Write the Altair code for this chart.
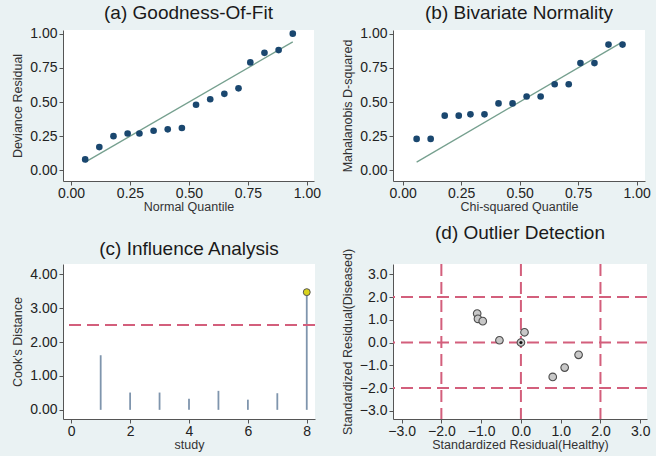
import altair as alt
import pandas as pd

# ---- data ----
normal_q = [0.06, 0.12, 0.18, 0.24, 0.29, 0.35, 0.41, 0.47, 0.53, 0.59, 0.65, 0.71, 0.76, 0.82, 0.88, 0.94]
deviance = [0.08, 0.17, 0.25, 0.27, 0.27, 0.29, 0.30, 0.31, 0.48, 0.52, 0.56, 0.60, 0.79, 0.86, 0.88, 1.00]
chi_q = [0.06, 0.12, 0.18, 0.24, 0.29, 0.35, 0.41, 0.47, 0.53, 0.59, 0.65, 0.71, 0.76, 0.82, 0.88, 0.94]
maha = [0.23, 0.23, 0.40, 0.40, 0.41, 0.41, 0.49, 0.49, 0.54, 0.54, 0.63, 0.63, 0.785, 0.785, 0.92, 0.92]
ref_line = [0.06, 0.94]

study = [1, 2, 3, 4, 5, 6, 7, 8]
cooks = [1.61, 0.51, 0.51, 0.33, 0.56, 0.30, 0.49, 3.47]
cook_cutoff = [2.5]

resid_healthy = [-1.10, -1.08, -0.96, -0.54, 0.00, 0.09, 1.45, 1.10, 0.80]
resid_diseased = [1.27, 1.04, 0.94, 0.10, 0.00, 0.45, -0.54, -1.10, -1.51]
outlier_lines = [-2, 0, 2]

ticks_unit = [0, 0.25, 0.5, 0.75, 1.0]
ticks_cook = [0, 1, 2, 3, 4]
ticks_study = [0, 2, 4, 6, 8]
ticks_std = [-3, -2, -1, 0, 1, 2, 3]

NAVY = "#1a476f"
FITLINE = "#76a08f"
SPIKE = "#7f95ad"
DASH = "#d35f7c"
FONT = "Liberation Sans"


def ax(title, values, fmt, tpad, lpad=2):
    return alt.Axis(title=title, values=values, format=fmt, grid=False,
                    labelFlush=False, labelOverlap=False, titlePadding=tpad,
                    labelPadding=lpad)


def ttl(text, offset):
    return alt.TitleParams(text=text, fontSize=19, fontWeight="normal", color="#1a1a1a",
                           font=FONT, anchor="middle", offset=offset)


# (a)
da = pd.DataFrame({"q": normal_q, "r": deviance})
dla = pd.DataFrame({"q": ref_line, "r": ref_line})
xa = alt.X("q:Q", scale=alt.Scale(domain=[-0.034, 1.030], nice=False, zero=False),
           axis=ax("Normal Quantile", ticks_unit, ".2f", 0, 1))
ya = alt.Y("r:Q", scale=alt.Scale(domain=[-0.078, 1.027], nice=False, zero=False),
           axis=ax("Deviance Residual", ticks_unit, ".2f", 5))
pa = alt.layer(
    alt.Chart(dla).mark_line(color=FITLINE, strokeWidth=1.3).encode(x=xa, y=ya),
    alt.Chart(da).mark_circle(color=NAVY, opacity=1, size=44).encode(x=xa, y=ya),
).properties(width=251, height=151, title=ttl("(a) Goodness-Of-Fit", 4))

# (b)
db = pd.DataFrame({"q": chi_q, "d": maha})
dlb = pd.DataFrame({"q": ref_line, "d": ref_line})
xb = alt.X("q:Q", scale=alt.Scale(domain=[-0.041, 1.036], nice=False, zero=False),
           axis=ax("Chi-squared Quantile", ticks_unit, ".2f", 0, 1))
yb = alt.Y("d:Q", scale=alt.Scale(domain=[-0.078, 1.027], nice=False, zero=False),
           axis=ax("Mahalanobis D-squared", ticks_unit, ".2f", 5))
pb = alt.layer(
    alt.Chart(dlb).mark_line(color=FITLINE, strokeWidth=1.3).encode(x=xb, y=yb),
    alt.Chart(db).mark_circle(color=NAVY, opacity=1, size=44).encode(x=xb, y=yb),
).properties(width=252, height=151, title=ttl("(b) Bivariate Normality", 4))

# (c)
dc = pd.DataFrame({"study": study, "cooks": cooks, "base": [0] * len(study)})
dcut = pd.DataFrame({"cooks": cook_cutoff})
xc = alt.X("study:Q", scale=alt.Scale(domain=[-0.28, 8.28], nice=False, zero=False),
           axis=ax("study", ticks_study, "d", 0, 1))
yc = alt.Y("cooks:Q", scale=alt.Scale(domain=[-0.27, 4.30], nice=False, zero=False),
           axis=ax("Cook's Distance", ticks_cook, ".2f", 5))
pc = alt.layer(
    alt.Chart(dc).mark_rule(color=SPIKE, strokeWidth=1.8).encode(x=xc, y=yc, y2="base:Q"),
    alt.Chart(dcut).mark_rule(color=DASH, strokeWidth=2, strokeDash=[12, 6]).encode(y=yc),
    alt.Chart(dc).transform_filter(alt.datum.cooks > cook_cutoff[0]).mark_point(
        filled=True, fill="#d9d31c", stroke="#555555", strokeWidth=1, size=48, opacity=1,
        shape="circle").encode(x=xc, y=yc),
).properties(width=252, height=155, title=ttl("(c) Influence Analysis", 5))

# (d)
dd = pd.DataFrame({"h": resid_healthy, "dz": resid_diseased})
dlv = pd.DataFrame({"h": outlier_lines})
dlh = pd.DataFrame({"dz": outlier_lines})
xd = alt.X("h:Q", scale=alt.Scale(domain=[-3.216, 3.17], nice=False, zero=False),
           axis=ax("Standardized Residual(Healthy)", ticks_std, ".1f", 0, 1))
yd = alt.Y("dz:Q", scale=alt.Scale(domain=[-3.36, 3.45], nice=False, zero=False),
           axis=ax("Standardized Residual(Diseased)", ticks_std, ".1f", 5))
pd_ = alt.layer(
    alt.Chart(dlv).mark_rule(color=DASH, strokeWidth=2, strokeDash=[12, 6]).encode(x=xd),
    alt.Chart(dlh).mark_rule(color=DASH, strokeWidth=2, strokeDash=[12, 6]).encode(y=yd),
    alt.Chart(dd).mark_point(filled=True, fill="#c8c8c8", stroke="#4d4d4d", strokeWidth=1.1,
                             size=58, opacity=1, shape="circle").encode(x=xd, y=yd),
    alt.Chart(dd).transform_filter((alt.datum.h == 0) & (alt.datum.dz == 0)).mark_point(
        filled=True, fill="#111111", size=10, opacity=1, shape="circle").encode(x=xd, y=yd),
).properties(width=254, height=155, title=ttl("(d) Outlier Detection", 5))

chart = alt.concat(pa, pb, pc, pd_, columns=2, spacing={"row": 83, "column": 78},
                   bounds="flush").properties(
    padding={"left": 11, "top": 3, "right": 5, "bottom": 5}
).configure(background="#eaf2f3").configure_view(stroke=None, fill="white").configure_axis(
    domainColor="#555555", tickColor="#555555", tickSize=4,
    labelFont=FONT, labelFontSize=14, labelColor="#222222",
    titleFont=FONT, titleFontSize=12.5, titleColor="#333333", titleFontWeight="normal",
    domainWidth=1, tickWidth=1,
)

chart.save("out.html", embed_options={"renderer": "svg", "actions": False})
